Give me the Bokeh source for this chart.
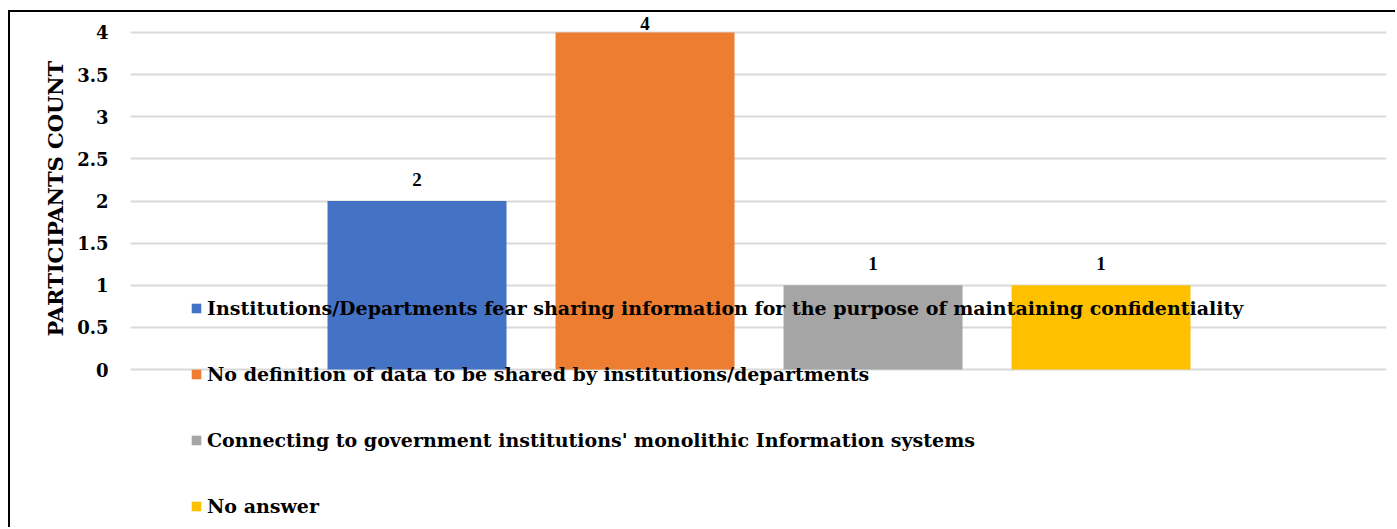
import numpy as np
from bokeh.plotting import figure
from bokeh.models import ColumnDataSource, FixedTicker, Legend, LegendItem, LabelSet, Title
from bokeh.embed import file_html
from bokeh.resources import INLINE

# Survey responses: obstacles to information sharing between institutions
reasons = [
    "Institutions/Departments fear sharing information for the purpose of maintaining confidentiality",
    "No definition of data to be shared by institutions/departments",
    "Connecting to government institutions' monolithic Information systems",
    "No answer",
]
counts = [2, 4, 1, 1]
colors = ["#4472C4", "#ED7D31", "#A5A5A5", "#FFC000"]
y_ticks = [0, 0.5, 1, 1.5, 2, 2.5, 3, 3.5, 4]
y_tick_labels = ["0", "0.5", "1", "1.5", "2", "2.5", "3", "3.5", "4"]

FONT = "DejaVu Serif"

positions = np.arange(1, len(reasons) + 1)
counts_arr = np.array(counts, dtype=float)
source = ColumnDataSource(dict(
    x=positions,
    top=counts_arr,
    color=colors,
    reason=reasons,
    label=[str(c) for c in counts],
    # value labels sit just above each bar, kept inside the plot area
    label_y=np.minimum(counts_arr + 0.26, 4.11),
))

p = figure(
    width=1387, height=517,
    x_range=(-0.2566, 5.252), y_range=(-1.899, 4.2136),
    output_backend="svg", toolbar_location=None,
    x_axis_location=None,
    min_border_left=120, min_border_right=11,
    min_border_top=2, min_border_bottom=0,
)
p.styles = {
    "margin-left": "8px", "margin-top": "10px",
    "border-left": "2px solid black", "border-top": "2px solid black",
}
p.outline_line_color = None
p.background_fill_color = "white"
p.border_fill_color = "white"

bars = p.vbar(x="x", top="top", bottom=0, width=0.785, fill_color="color",
              line_color=None, source=source)

# y axis: bold serif ticks, no line
ticker = FixedTicker(ticks=y_ticks)
p.yaxis.ticker = ticker
p.yaxis.major_label_overrides = {t: s for t, s in zip(y_ticks, y_tick_labels)}
p.yaxis.axis_line_color = None
p.yaxis.major_tick_line_color = None
p.yaxis.minor_tick_line_color = None
p.yaxis.major_tick_out = 0
p.yaxis.major_tick_in = 0
p.yaxis.major_label_standoff = 22
p.yaxis.major_label_text_font = FONT
p.yaxis.major_label_text_font_style = "bold"
p.yaxis.major_label_text_font_size = "18px"
p.yaxis.major_label_text_color = "black"

p.xgrid.visible = False
p.ygrid.ticker = ticker
p.ygrid.grid_line_color = "#D9D9D9"
p.ygrid.grid_line_width = 2

# axis title, lifted so it is centred on the 0-4 span rather than the whole frame
p.add_layout(Title(
    text="PARTICIPANTS COUNT", align="left", offset=193, standoff=13,
    text_font=FONT, text_font_style="bold", text_font_size="21px",
    text_color="black",
), "left")

p.add_layout(LabelSet(
    x="x", y="label_y", text="label", source=source,
    text_align="center", text_baseline="middle",
    text_font=FONT, text_font_style="bold", text_font_size="19px",
    text_color="black",
))

legend = Legend(
    items=[LegendItem(label=r, renderers=[bars], index=i) for i, r in enumerate(reasons)],
    location=(60, 12),
    orientation="vertical",
    background_fill_alpha=0, border_line_color=None,
    padding=0, margin=0, spacing=44,
    glyph_width=12, glyph_height=12, label_standoff=5,
    label_text_font=FONT, label_text_font_style="bold",
    label_text_font_size="19px", label_text_color="black",
)
p.add_layout(legend)

open("out.html", "w").write(file_html(p, INLINE))
